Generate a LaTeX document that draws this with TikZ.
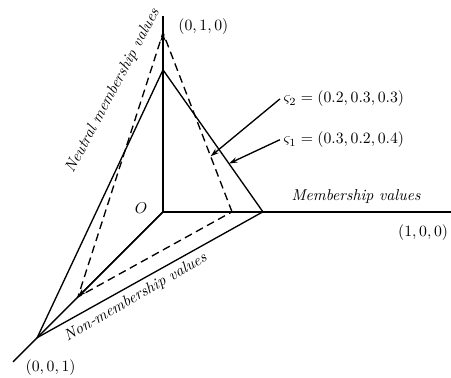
\documentclass[tikz,border=0pt]{standalone}
\usetikzlibrary{arrows.meta,calc}
\begin{document}
\begin{tikzpicture}[>={Stealth[length=1.9mm,width=1.2mm]},line width=0.85pt,
    lbl/.style={inner sep=0pt,font=\itshape},
    pt/.style={inner sep=0pt},
    dsh/.style={dash pattern=on 5pt off 3pt}]
  \useasboundingbox (-3.64,-3.71) rectangle (6.43,4.73);
  % axes
  \coordinate (o) at (0,0);
  \coordinate (xe) at (6.43,0);
  \coordinate (ye) at (0,4.37);
  \coordinate (ze) at (-3.35,-3.35);
  % solid triangle
  \coordinate (a1) at (2.23,0);
  \coordinate (a2) at (0,3.17);
  \coordinate (a3) at (-2.81,-2.81);
  % dashed triangle
  \coordinate (b1) at (1.54,0);
  \coordinate (b2) at (0,4.0);
  \coordinate (b3) at (-1.90,-1.90);
  \draw (o)--(xe); \draw (o)--(ye); \draw (o)--(ze);
  \draw[->] (o)--(b2); \draw[->] (o)--(b3);
  \draw (a1)--(a2)--(a3)--cycle;
  \draw[dsh] (b1)--(b2)--(b3)--cycle;
  \node[pt,anchor=west] (p010) at (0.33,4.13) {$(0,1,0)$};
  \node[pt,anchor=east] (p100) at (6.38,-0.47) {$(1,0,0)$};
  \node[pt,anchor=west] (p001) at (-3.08,-3.48) {$(0,0,1)$};
  \node[pt] (orig) at (-0.49,0.09) {$O$};
  \node[lbl] (mv) at (4.31,0.33) {Membership values};
  \node[lbl,rotate=62] (nv) at (-1.12,2.70) {Neutral membership values};
  \node[lbl,rotate=30] (nmv) at (-0.61,-1.91) {Non-membership values};
  \node[pt,anchor=west] (s2) at (2.68,2.52) {$\varsigma_2=(0.2,0.3,0.3)$};
  \node[pt,anchor=west] (s1) at (2.68,1.61) {$\varsigma_1=(0.3,0.2,0.4)$};
  \draw[->] ([xshift=-2pt]s2.west)--($(b2)!0.69!(b1)$);
  \draw[->] ([xshift=-2pt]s1.west)--($(a2)!0.66!(a1)$);
\end{tikzpicture}
\end{document}
